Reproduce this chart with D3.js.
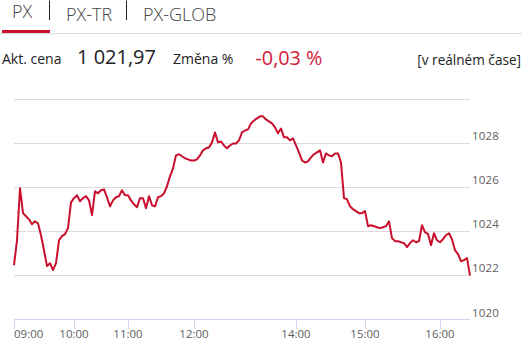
<!DOCTYPE html>
<html>
<head>
<meta charset="utf-8">
<script src="https://cdn.jsdelivr.net/npm/d3@7"></script>
<style>
  html, body { margin: 0; padding: 0; background: #fff; }
  svg { display: block; font-family: "Open Sans", sans-serif; }
</style>
</head>
<body>
<svg id="chart" width="525" height="341"></svg>
<script>
// ---- data ----
const tabs = ["PX", "PX-TR", "PX-GLOB"];
const priceLabel = "Akt. cena";
const priceValue = "1 021,97";
const changeLabel = "Změna %";
const changeValue = "-0,03 %";
const realtimeLabel = "[v reálném čase]";

const values = [
  1022.44, 1023.57, 1025.93, 1024.80, 1024.66, 1024.52, 1024.30, 1024.43, 1024.34, 1023.80,
  1023.12, 1022.40, 1022.53, 1022.22, 1022.53, 1023.57, 1023.76, 1023.85, 1024.12, 1025.29,
  1025.48, 1025.61, 1025.34, 1025.48, 1025.57, 1025.38, 1024.71, 1025.79, 1025.70, 1025.84,
  1025.88, 1025.52, 1025.11, 1025.38, 1025.52, 1025.57, 1025.84, 1025.61, 1025.61, 1025.38,
  1025.20, 1025.07, 1025.48, 1025.48, 1025.02, 1025.57, 1025.16, 1025.11, 1025.52, 1025.57,
  1025.70, 1026.02, 1026.47, 1026.83, 1027.42, 1027.47, 1027.38, 1027.29, 1027.24, 1027.19,
  1027.19, 1027.24, 1027.42, 1027.65, 1027.74, 1027.78, 1028.01, 1028.46, 1028.01, 1028.05,
  1027.87, 1027.74, 1027.87, 1027.96, 1027.96, 1028.10, 1028.46, 1028.55, 1028.60, 1028.87,
  1029.00, 1029.10, 1029.19, 1029.19, 1029.05, 1028.96, 1028.87, 1028.69, 1028.42, 1028.64,
  1028.24, 1028.24, 1028.10, 1028.19, 1027.87, 1027.56, 1027.19, 1027.10, 1027.15, 1027.33,
  1027.47, 1027.56, 1027.65, 1027.10, 1027.51, 1027.42, 1027.38, 1027.51, 1027.51, 1027.10,
  1025.48, 1025.43, 1025.11, 1024.98, 1024.89, 1024.80, 1024.80, 1024.89, 1024.21, 1024.25,
  1024.21, 1024.16, 1024.12, 1024.16, 1024.21, 1024.43, 1023.67, 1023.53, 1023.53, 1023.48,
  1023.44, 1023.26, 1023.44, 1023.57, 1023.48, 1023.53, 1024.25, 1023.94, 1023.85, 1023.35,
  1023.89, 1023.57, 1023.48, 1023.62, 1023.80, 1023.89, 1023.62, 1023.12, 1022.94, 1022.62,
  1022.67, 1022.76, 1021.97
];
const timeTickLabels = ["09:00", "10:00", "11:00", "12:00", "14:00", "15:00", "16:00"];
const timeTickIndex  = [0, 20, 38, 60, 94, 117, 142];
const yTicks = [1020, 1022, 1024, 1026, 1028, 1030];
const yTickLabels = ["1020", "1022", "1024", "1026", "1028", ""];

// ---- drawing ----
const svg = d3.select("#chart");
const RED = "#c8102e";

// header tabs
const tabG = svg.append("g");
const tabX = [12, 66, 143];
const tabY = [17.5, 20.7, 20.7];
tabs.forEach((t, i) => {
  tabG.append("text").attr("x", tabX[i]).attr("y", tabY[i])
    .attr("font-size", 18).attr("font-weight", 300)
    .attr("fill", "#444").text(t);
});
[49.5, 126.5].forEach(x => {
  tabG.append("line").attr("x1", x).attr("x2", x).attr("y1", 0.5).attr("y2", 20)
    .attr("stroke", "#222").attr("stroke-width", 1);
});
svg.append("line").attr("x1", 0).attr("x2", 522).attr("y1", 33.5).attr("y2", 33.5)
  .attr("stroke", "#ddd").attr("stroke-width", 1);
svg.append("rect").attr("x", 2).attr("y", 30).attr("width", 48).attr("height", 3).attr("fill", RED);

// info row
svg.append("text").attr("x", 2).attr("y", 64.3).attr("font-size", 14).attr("fill", "#222").text(priceLabel);
svg.append("text").attr("x", 77).attr("y", 64.3).attr("font-size", 20).attr("fill", "#222").text(priceValue);
svg.append("text").attr("x", 173).attr("y", 64.3).attr("font-size", 14).attr("fill", "#222").text(changeLabel);
svg.append("text").attr("x", 255.5).attr("y", 65).attr("font-size", 19.8)
  .attr("fill", "#d0193b").text(changeValue);
svg.append("text").attr("x", 521).attr("y", 64.5).attr("font-size", 13.6).attr("fill", "#222")
  .attr("text-anchor", "end").text(realtimeLabel);

// scales
const x = d3.scaleLinear().domain([0, values.length - 1]).range([14, 470]);
const y = d3.scaleLinear().domain([1020, 1030]).range([319, 98.5]);

// grid
const grid = svg.append("g");
grid.selectAll("line").data(yTicks).join("line")
  .attr("x1", 14).attr("x2", 470)
  .attr("y1", d => Math.round(y(d)) + 0.5).attr("y2", d => Math.round(y(d)) + 0.5)
  .attr("stroke", d => d === 1020 ? "#ccd6eb" : "#dcdcdc").attr("stroke-width", 1);

// y labels
svg.append("g").selectAll("text").data(yTicks).join("text")
  .attr("x", 472).attr("y", d => y(d) - 2.5)
  .attr("font-size", 11.5).attr("fill", "#606060").attr("letter-spacing", 0.2)
  .text((d, i) => yTickLabels[i]);

// x axis ticks
const xt = svg.append("g");
xt.selectAll("line").data(timeTickIndex).join("line")
  .attr("x1", d => Math.round(x(d)) + 0.5).attr("x2", d => Math.round(x(d)) + 0.5)
  .attr("y1", 319).attr("y2", 329)
  .attr("stroke", "#ccd6eb").attr("stroke-width", 1);
xt.selectAll("text").data(timeTickIndex).join("text")
  .attr("x", d => x(d))
  .attr("y", 337.5)
  .attr("font-size", 11.5).attr("fill", "#606060")
  .attr("text-anchor", (d, i) => i === 0 ? "start" : "middle")
  .text((d, i) => timeTickLabels[i]);

// line
const line = d3.line().x((d, i) => x(i)).y(d => y(d));
svg.append("path").datum(values)
  .attr("d", line)
  .attr("fill", "none")
  .attr("stroke", RED)
  .attr("stroke-width", 2)
  .attr("stroke-linejoin", "round");
</script>
</body>
</html>
